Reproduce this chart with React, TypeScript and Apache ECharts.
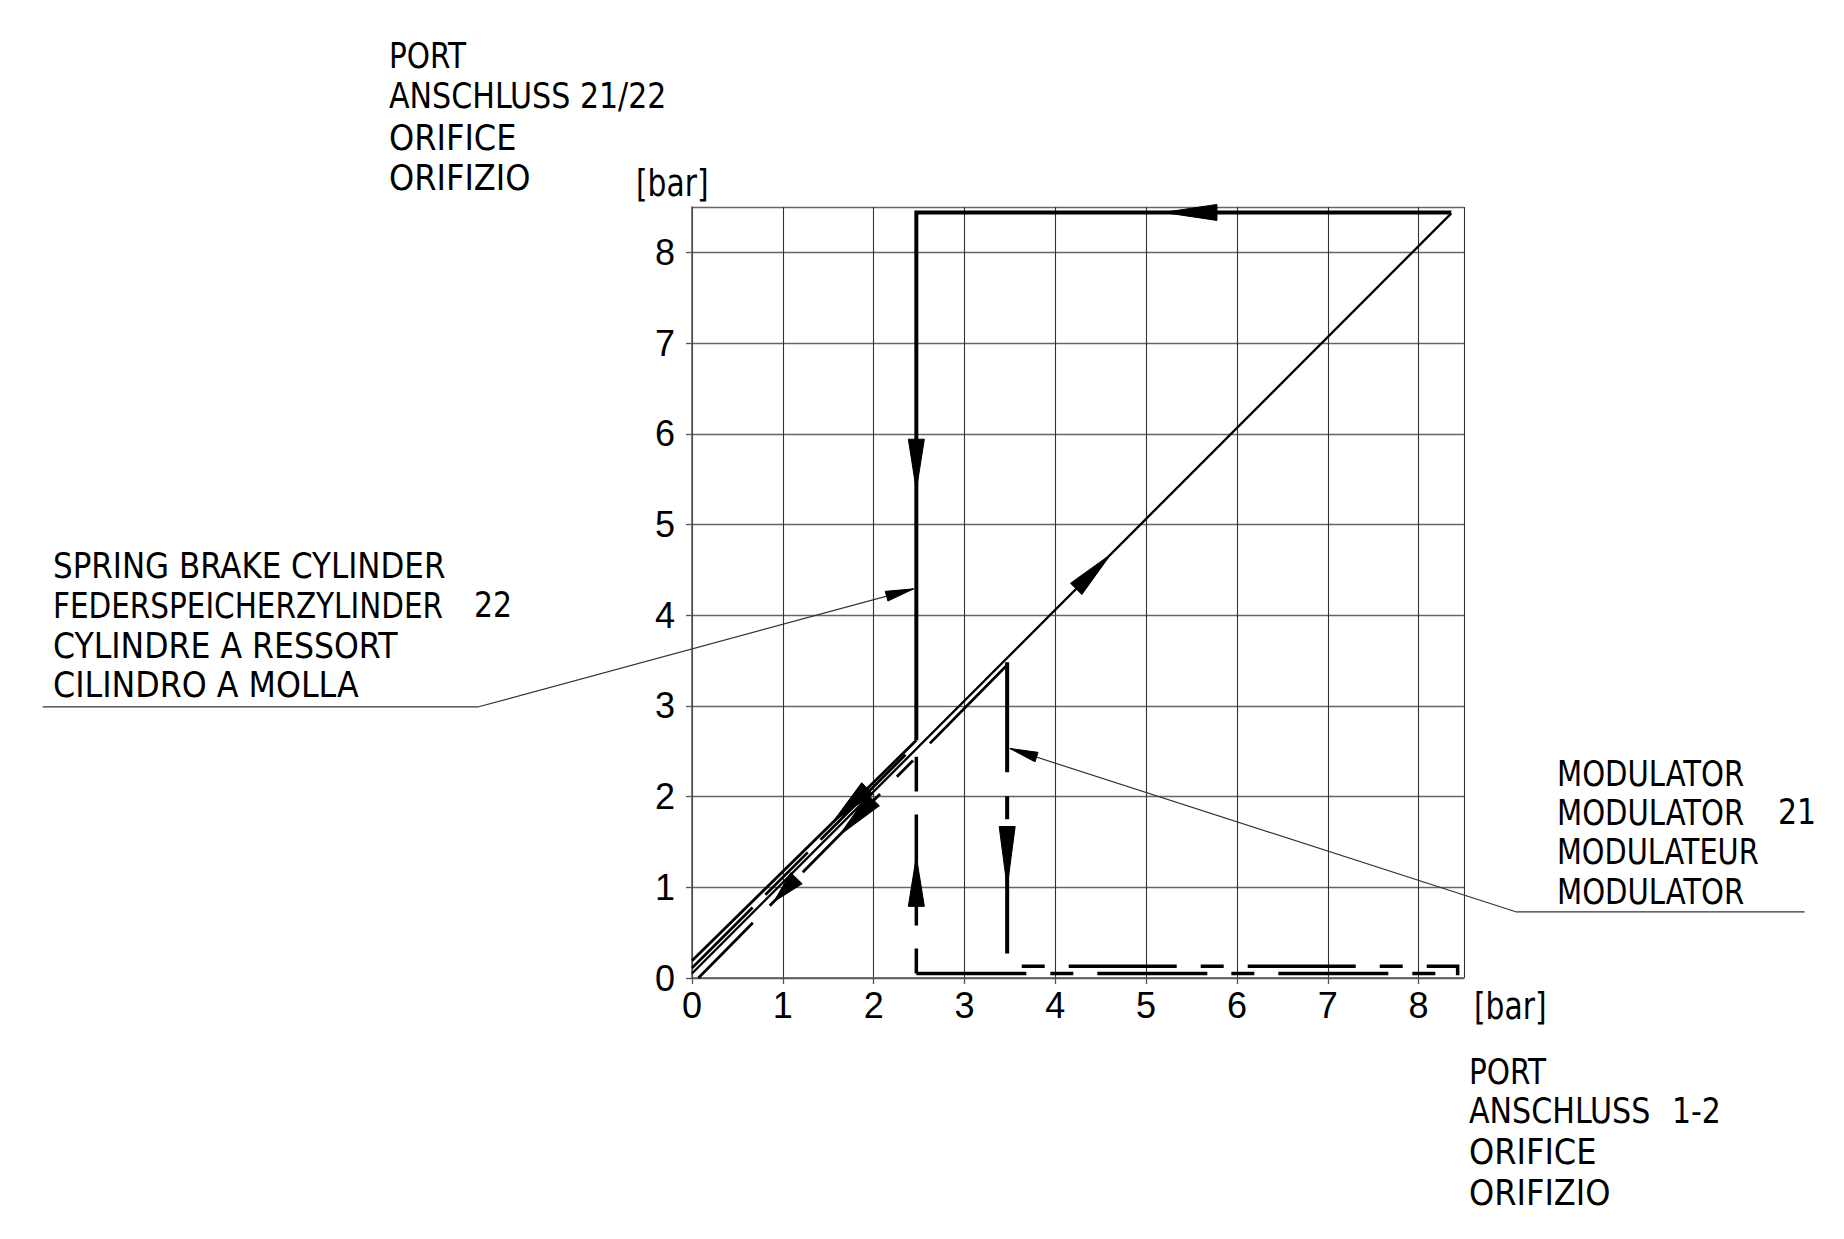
import React, { useEffect, useRef } from "react";
import * as echarts from "echarts";

// ---- data (bar) ----
const xTicks = [0, 1, 2, 3, 4, 5, 6, 7, 8];
const yTicks = [0, 1, 2, 3, 4, 5, 6, 7, 8];
const axisMin = 0;
const axisMax = 8.5;

// rising characteristic (thin)
const mainLine = [[0, 0.05], [8.36, 8.43]];
// spring brake cylinder 22 (thick, solid)
const thickTopAndDrop = [[8.36, 8.44], [2.47, 8.44], [2.47, 2.62]];
const thickReturn = [[2.47, 2.62], [0, 0.19]];
// modulator 21 (dashed)
const modSupply = [[3.47, 3.45], [0.07, 0]];
const modReturn = [[2.35, 2.46], [0, 0.11]];
const modDrop = [[3.47, 3.48], [3.47, 0.27]];
const modRise = [[2.47, 0.05], [2.47, 2.44]];
const modBottomLower = [[2.47, 0.05], [8.43, 0.05]];
const modBottomUpper = [[8.43, 0.03], [8.43, 0.13], [3.59, 0.13]];

// leader lines to the annotations (polyline points, data units)
const springLeader = [[-7.15, 2.99], [-2.35, 2.99], [2.44, 4.29]];
const modLeader = [[12.25, 0.73], [9.07, 0.73], [3.5, 2.53]];

// direction arrows: [tipX, tipY, baseX, baseY]
const flowArrows = [
  [5.19, 8.44, 5.78, 8.44],
  [2.47, 5.38, 2.47, 5.94],
  [4.61, 4.67, 4.23, 4.29],
  [1.55, 1.72, 1.93, 2.09],
  [1.62, 1.57, 2.0, 1.96],
  [0.9, 0.84, 1.15, 1.1],
  [3.47, 1.0, 3.47, 1.67],
  [2.47, 1.34, 2.47, 0.79],
];
// leader arrowheads: [tipX, tipY, fromX, fromY]
const leaderArrows = [
  [2.44, 4.29, -2.35, 2.99],
  [3.5, 2.53, 9.07, 0.73],
];

// texts
const portTopLines = ["PORT", "ANSCHLUSS", "ORIFICE", "ORIFIZIO"];
const portTopNumber = "21/22";
const springLines = ["SPRING BRAKE CYLINDER", "FEDERSPEICHERZYLINDER", "CYLINDRE A RESSORT", "CILINDRO A MOLLA"];
const springNumber = "22";
const modLines = ["MODULATOR", "MODULATOR", "MODULATEUR", "MODULATOR"];
const modNumber = "21";
const portBottomLines = ["PORT", "ANSCHLUSS", "ORIFICE", "ORIFIZIO"];
const portBottomNumber = "1-2";
const unitLabel = "[bar]";

// ---- layout / style ----
const CAD = "'Liberation Sans Narrow', 'DejaVu Sans Condensed', 'Liberation Sans', sans-serif";
const TICKFONT = "'Liberation Sans', Arial, sans-serif";
const portScales = [0.91, 0.93, 0.99, 0.99];
const springScales = [0.956, 0.91, 0.975, 0.98];
const modScales = [0.9, 0.9, 0.89, 0.9];

function cadText(text: string, x: number, y: number, sx: number, size = 36) {
  return {
    type: "text",
    x,
    y,
    scaleX: sx,
    silent: true,
    style: { text, fontSize: size, fontFamily: CAD, fill: "#000", align: "left", verticalAlign: "middle" },
  };
}

function textBlock(
  lines: string[],
  scales: number[],
  x: number,
  ys: number[],
  extra?: { text: string; x: number; line: number }
) {
  const els: any[] = lines.map((t, i) => cadText(t, x, ys[i], scales[i]));
  if (extra) els.push(cadText(extra.text, extra.x, ys[extra.line], 0.925));
  return els;
}

function toSegments(pts: number[][]) {
  const segs: number[][] = [];
  for (let i = 1; i < pts.length; i++) segs.push([pts[i - 1][0], pts[i - 1][1], pts[i][0], pts[i][1]]);
  return segs;
}

function segmentSeries(data: number[][], width: number, color: string) {
  return {
    type: "custom",
    coordinateSystem: "cartesian2d",
    clip: false,
    silent: true,
    z: 4,
    data,
    renderItem: (params: any, api: any) => {
      const a = api.coord([api.value(0), api.value(1)]);
      const b = api.coord([api.value(2), api.value(3)]);
      return {
        type: "line",
        shape: { x1: a[0], y1: a[1], x2: b[0], y2: b[1] },
        style: { stroke: color, lineWidth: width, fill: null },
      };
    },
  };
}

function arrowSeries(data: number[][], halfWidth: number, fixedLen: number | null) {
  return {
    type: "custom",
    coordinateSystem: "cartesian2d",
    clip: false,
    silent: true,
    z: 5,
    data,
    renderItem: (params: any, api: any) => {
      const tip = api.coord([api.value(0), api.value(1)]);
      const ref = api.coord([api.value(2), api.value(3)]);
      const dx = ref[0] - tip[0];
      const dy = ref[1] - tip[1];
      const len = Math.hypot(dx, dy) || 1;
      const ux = dx / len;
      const uy = dy / len;
      const L = fixedLen == null ? len : fixedLen;
      const bx = tip[0] + ux * L;
      const by = tip[1] + uy * L;
      const px = -uy * halfWidth;
      const py = ux * halfWidth;
      return {
        type: "polygon",
        shape: { points: [tip, [bx + px, by + py], [bx - px, by - py]] },
        style: { fill: "#000", stroke: "#000", lineWidth: 1 },
      };
    },
  };
}

function lineSeries(data: number[][], width: number, type: any = "solid", color = "#000", dashOffset = 0) {
  return {
    type: "line",
    data,
    symbol: "none",
    showSymbol: false,
    clip: false,
    silent: true,
    z: 4,
    lineStyle: { color, width, type, dashOffset, cap: "butt", join: "miter" },
  };
}

export default function App() {
  const ref = useRef<HTMLDivElement>(null);
  useEffect(() => {
    if (!ref.current) return;
    const chart = echarts.init(ref.current, undefined, { renderer: "svg" });
    const axisCommon = {
      type: "value",
      min: axisMin,
      max: axisMax,
      interval: 1,
      axisLine: { show: true, lineStyle: { color: "#555", width: 1.5 } },
      axisTick: { show: true, length: 6, lineStyle: { color: "#555", width: 1.3 } },
    };
    const option: any = {
      animation: false,
      backgroundColor: "#fff",
      grid: { left: 692, top: 207, width: 772, height: 771, show: false },
      xAxis: {
        ...axisCommon,
        splitLine: { show: true, lineStyle: { color: "#333", width: 1.1 } },
        axisLabel: {
          showMaxLabel: false,
          fontSize: 36,
          fontFamily: TICKFONT,
          color: "#000",
          margin: 9,
          formatter: (v: number) => (xTicks.includes(v) ? String(v) : ""),
        },
      },
      yAxis: {
        ...axisCommon,
        splitLine: { show: true, lineStyle: { color: "#666", width: 1.4 } },
        axisLabel: {
          showMaxLabel: false,
          fontSize: 36,
          fontFamily: TICKFONT,
          color: "#000",
          margin: 17,
          formatter: (v: number) => (yTicks.includes(v) ? String(v) : ""),
        },
      },
      series: [
        lineSeries(mainLine, 2.3),
        lineSeries(thickTopAndDrop, 4),
        lineSeries(thickReturn, 2.8),
        lineSeries(modSupply, 2.8, [110, 24, 23, 24]),
        lineSeries(modReturn, 2.8, [120, 18, 60, 18]),
        lineSeries(modDrop, 4, [110, 24, 23, 24, 300]),
        lineSeries(modRise, 3.5, [25, 23, 111, 23, 40, 20]),
        lineSeries(modBottomLower, 3.5, [110, 24, 23, 24]),
        lineSeries(modBottomUpper, 3.5, [40, 24, 23, 24, 108, 24, 23, 24, 108, 24, 23, 24, 108]),
        segmentSeries(toSegments(springLeader), 1.2, "#333"),
        segmentSeries(toSegments(modLeader), 1.2, "#333"),
        arrowSeries(flowArrows, 8, null),
        arrowSeries(leaderArrows, 5, 28),
      ],
      graphic: [
        ...textBlock(portTopLines, portScales, 389, [55, 96, 137, 177], { text: portTopNumber, x: 580, line: 1 }),
        ...textBlock(springLines, springScales, 53, [565, 605, 645, 684], { text: springNumber, x: 474, line: 1 }),
        ...textBlock(modLines, modScales, 1557, [773, 812, 851, 891], { text: modNumber, x: 1778, line: 1 }),
        ...textBlock(portBottomLines, portScales, 1469, [1071, 1111, 1151, 1192], { text: portBottomNumber, x: 1672, line: 1 }),
        cadText(unitLabel, 636, 183, 0.87, 38),
        cadText(unitLabel, 1474, 1006, 0.87, 38),
      ],
    };
    chart.setOption(option);
    return () => chart.dispose();
  }, []);
  return (
    <div
      ref={ref}
      style={{ position: "fixed", left: 0, top: 0, width: 1844, height: 1239, background: "#fff" }}
    />
  );
}
